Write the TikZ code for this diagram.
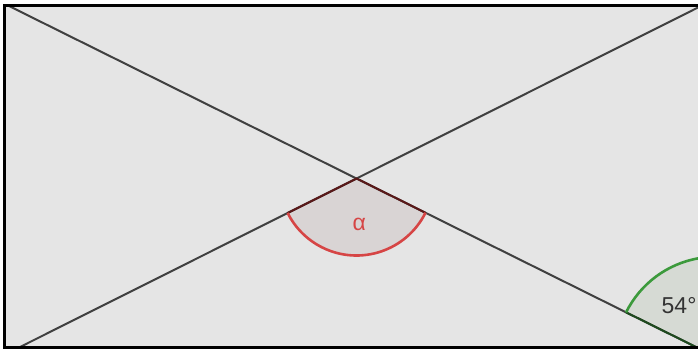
\documentclass[tikz,border=0pt]{standalone}
\usepackage{fontspec}
\setmainfont{Liberation Sans}
\usetikzlibrary{calc}
\definecolor{bgc}{HTML}{E5E5E5}
\definecolor{lnc}{HTML}{404040}
\definecolor{afill}{HTML}{D9D4D4}
\definecolor{aarc}{HTML}{D64545}
\definecolor{aedge}{HTML}{5A1818}
\definecolor{gfill}{HTML}{D6DAD4}
\definecolor{garc}{HTML}{3C9A3C}
\definecolor{gedge}{HTML}{1E4A1E}
\definecolor{txt}{HTML}{333333}
\tikzset{
  ln/.style={draw=lnc,line width=2pt},
  lbl/.style={inner sep=0pt,font=\fontsize{23}{23}\selectfont}
}
\begin{document}
\begin{tikzpicture}[x=1pt,y=-1pt]
\useasboundingbox (0,0) rectangle (698,349);
\fill[white] (0,0) rectangle (698,349);
\coordinate (V) at (356.5,178.5);
\coordinate (C) at ($(V)+(26.4:401)$);
\begin{scope}
\clip (4.5,5.5) rectangle (698,347.5);
\fill[bgc] (4.5,5.5) rectangle (720,347.5);
% alpha sector fill
\fill[afill] (V) -- ($(V)+(26.4:77)$) arc[start angle=26.4,end angle=153.4,radius=77] -- cycle;
% 54 sector fill
\fill[gfill] (C) -- ($(C)+(206.4:100)$) arc[start angle=206.4,end angle=260.4,radius=100] -- cycle;
% lines
\draw[ln] ($(V)+(206.4:500)$) -- ($(V)+(26.4:500)$);
\draw[ln] ($(V)+(153.4:500)$) -- ($(V)+(-26.6:500)$);
% alpha edges and arc
\draw[aedge,line width=2pt] ($(V)+(153.4:77)$) -- (V) -- ($(V)+(26.4:77)$);
\draw[aarc,line width=2.6pt] ($(V)+(26.4:77)$) arc[start angle=26.4,end angle=153.4,radius=77];
% 54 edge and arc
\draw[gedge,line width=2pt] ($(C)+(206.4:100)$) -- (C);
\draw[garc,line width=2.6pt] ($(C)+(206.4:100)$) arc[start angle=206.4,end angle=260.4,radius=100];
\node[lbl,text=aarc] (alpha) at (359.2,224) {α};
\node[lbl,text=txt,anchor=west] (ang) at (661.5,305.5) {54°};
\end{scope}
\draw[black,line width=3pt] (4.3,5.5) rectangle (720,347.5);
\end{tikzpicture}
\end{document}
